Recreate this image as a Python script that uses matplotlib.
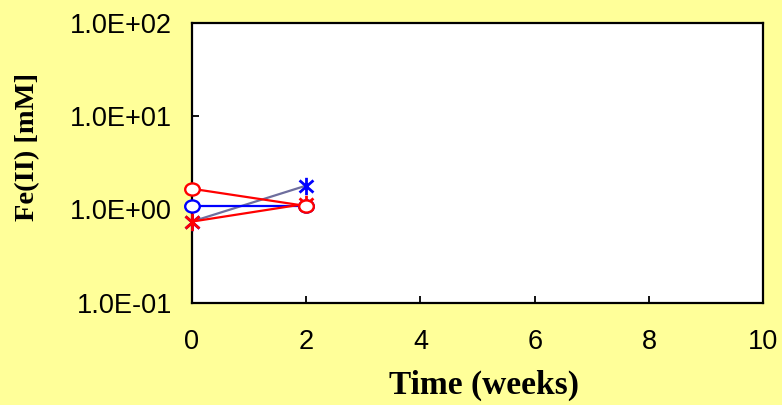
import numpy as np
import matplotlib
matplotlib.use("Agg")
import matplotlib.pyplot as plt
from matplotlib.path import Path
from matplotlib.ticker import FixedLocator, FixedFormatter, NullLocator

# Fe(II) concentration over time
weeks = [0, 2]
red_circle = [1.67, 1.09]
blue_circle = [1.08, 1.08]
blue_star = [0.74, 1.80]
red_star = [0.74, 1.15]

x_ticks = [0, 2, 4, 6, 8, 10]
y_ticks = [0.1, 1, 10, 100]
y_tick_labels = ["1.0E-01", "1.0E+00", "1.0E+01", "1.0E+02"]

BG = "#FFFF99"

# Star marker: vertical stroke plus an X
star_path = Path(
    [(0, -1), (0, 1), (-0.8, -0.7), (0.8, 0.7), (-0.8, 0.7), (0.8, -0.7)],
    [Path.MOVETO, Path.LINETO, Path.MOVETO, Path.LINETO, Path.MOVETO, Path.LINETO],
)
# Slightly wide circle marker
uc = Path.unit_circle()
ellipse_path = Path(uc.vertices * np.array([1.2, 1.0]), uc.codes)

fig = plt.figure(figsize=(7.82, 4.05), dpi=100, facecolor=BG)
ax = fig.add_axes([0.2451, 0.2526, 0.7312, 0.6906])
ax.set_facecolor("white")

lw = 1.6
ax.plot(weeks, blue_star, color="#6E6E9E", lw=lw, marker=star_path, ms=12.5,
        mec="#0000FF", mew=2.0, clip_on=False, zorder=3)
ax.plot(weeks, blue_circle, color="#0000FF", lw=lw, marker=ellipse_path, ms=10.5,
        mec="#0000FF", mfc="white", mew=1.7, clip_on=False, zorder=3)
ax.plot(weeks, red_star, color="#FF0000", lw=lw, marker=star_path, ms=12.5,
        mec="#FF0000", mew=2.0, clip_on=False, zorder=4)
ax.plot(weeks, red_circle, color="#FF0000", lw=lw, marker=ellipse_path, ms=10.5,
        mec="#FF0000", mfc="white", mew=1.7, clip_on=False, zorder=4)

ax.set_yscale("log")
ax.set_ylim(0.1, 100)
ax.set_xlim(0, 10)
ax.yaxis.set_major_locator(FixedLocator(y_ticks))
ax.yaxis.set_major_formatter(FixedFormatter(y_tick_labels))
ax.yaxis.set_minor_locator(NullLocator())
ax.set_xticks(x_ticks)
ax.set_xticklabels([str(t) for t in x_ticks])

for s in ax.spines.values():
    s.set_linewidth(1.6)
    s.set_color("black")

ax.tick_params(axis="both", direction="in", length=5, width=1.3,
               top=False, right=False)
ax.tick_params(axis="y", pad=14)
ax.tick_params(axis="x", pad=19)
for lab in ax.get_xticklabels() + ax.get_yticklabels():
    lab.set_fontfamily("Liberation Sans")
    lab.set_fontsize(19.5)

W, H = 782, 405
fig.text(484 / W, 1 - 385 / H, "Time (weeks)", fontfamily="Liberation Serif",
         fontweight="bold", fontsize=24, ha="center", va="center")
fig.text(28 / W, 1 - 147 / H, "Fe(II) [mM]", fontfamily="Liberation Serif",
         fontweight="bold", fontsize=20.5, ha="center", va="center", rotation=90)

fig.savefig("out.png", dpi=100, facecolor=BG)
